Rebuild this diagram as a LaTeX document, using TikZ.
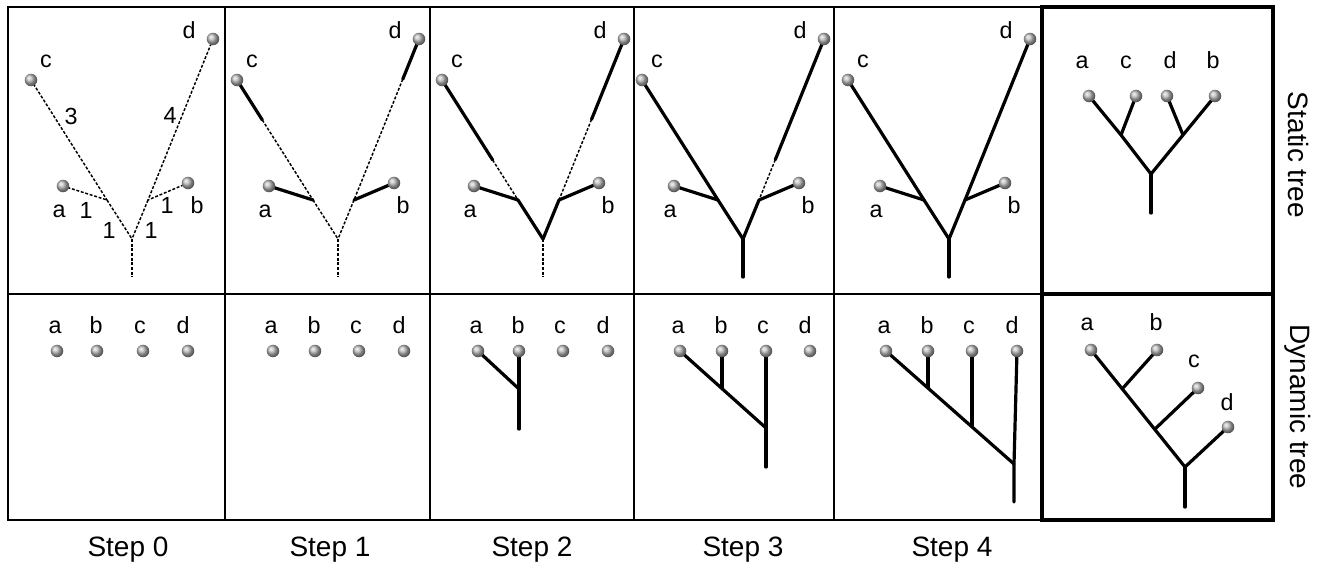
\documentclass[tikz,border=0pt]{standalone}
\usepackage{fontspec}
\setmainfont{Liberation Sans}
\usetikzlibrary{calc}
\pgfdeclarelayer{bg}
\pgfsetlayers{bg,main}
\tikzset{
  ball/.style={circle,inner sep=0pt,minimum size=9.4pt,shading=ball,ball color=gray!55},
  lbl/.style={font=\fontsize{17.5}{19}\selectfont,inner sep=0pt,anchor=base},
  steplbl/.style={font=\fontsize{21}{24}\selectfont,inner sep=0pt,anchor=base},
  sidelbl/.style={font=\fontsize{21}{24}\selectfont,inner sep=0pt,rotate=-90},
  branch/.style={line width=2.4pt,line cap=round,line join=round},
  dbranch/.style={line width=1.1pt,dash pattern=on 2.2pt off 1.3pt},
  thinframe/.style={line width=1.1pt},
  thickframe/.style={line width=2pt},
  boldframe/.style={line width=2.6pt},
}
% #1 x offset, #2 prefix, #3 solid fraction of c, #4 solid fraction of d,
% #5 style of a,b branches, #6 style of trunks, #7 style of stem
\newcommand\stree[7]{%
 \begin{scope}[shift={(#1,0)}]
  \node[ball] (#2a) at (63,186) {};
  \node[ball] (#2b) at (188,183) {};
  \node[ball] (#2c) at (31,80) {};
  \node[ball] (#2d) at (213,39) {};
  \coordinate (#2jl) at (107,200);
  \coordinate (#2jr) at (148,200);
  \coordinate (#2r) at (132,239);
  \coordinate (#2s) at (132,277);
  \coordinate (#2cm) at ($(#2c.center)!#3!(#2jl)$);
  \coordinate (#2dm) at ($(#2d.center)!#4!(#2jr)$);
  \node[lbl] (#2la) at (59,217) {a};
  \node[lbl] (#2lb) at (197,213) {b};
  \node[lbl] (#2lc) at (46,67) {c};
  \node[lbl] (#2ld) at (189,38) {d};
  \begin{pgfonlayer}{bg}
   \draw[dbranch] (#2cm) -- (#2jl);
   \draw[dbranch] (#2dm) -- (#2jr);
   \draw[#6] (#2jl) -- (#2r);
   \draw[#6] (#2jr) -- (#2r);
   \draw[#7] (#2r) -- (#2s);
   \draw[#5] (#2a.center) -- (#2jl);
   \draw[#5] (#2b.center) -- (#2jr);
   \draw[branch] (#2c.center) -- (#2cm);
   \draw[branch] (#2d.center) -- (#2dm);
  \end{pgfonlayer}
 \end{scope}}
% dynamic row: #1 prefix, #2..#5 ball x of a,b,c,d
\newcommand\drow[5]{%
  \node[ball] (#1a) at (#2,351) {};
  \node[ball] (#1b) at (#3,351) {};
  \node[ball] (#1c) at (#4,351) {};
  \node[ball] (#1d) at (#5,351) {};
  \node[lbl] (#1la) at (#2-2,333) {a};
  \node[lbl] (#1lb) at (#3-1,333) {b};
  \node[lbl] (#1lc) at (#4-3,333) {c};
  \node[lbl] (#1ld) at (#5-5,333) {d};}
\begin{document}
\begin{tikzpicture}[x=0.75pt,y=-0.75pt]
\useasboundingbox (0,0) rectangle (1331,565);
% frame
\draw[thickframe] (8,7) rectangle (1273,520);
\draw[thickframe] (8,294) -- (1042,294);
\foreach \xx in {225,430,634,834} \draw[thinframe] (\xx,7) -- (\xx,520);
\draw[boldframe] (1042,7) rectangle (1273,520);
\draw[boldframe] (1042,294) -- (1273,294);
% static trees
\stree{0}{sa}{0}{0}{dbranch}{dbranch}{dbranch}
\stree{206}{sb}{1/3}{1/4}{branch}{dbranch}{dbranch}
\stree{411}{sc}{2/3}{2/4}{branch}{branch}{dbranch}
\stree{611}{sd}{1}{3/4}{branch}{branch}{branch}
\stree{817}{se}{1}{1}{branch}{branch}{branch}
% branch lengths in step 0
\node[lbl] (n3) at (71,124) {3};
\node[lbl] (n4) at (170,123) {4};
\node[lbl] (n1a) at (86,218) {1};
\node[lbl] (n1b) at (167,213) {1};
\node[lbl] (n1c) at (109,238) {1};
\node[lbl] (n1d) at (151,238) {1};
% final static tree
\node[ball] (fa) at (1089,96) {};
\node[ball] (fc) at (1136,96) {};
\node[ball] (fd) at (1167,96) {};
\node[ball] (fb) at (1215,96) {};
\coordinate (fjl) at (1121,135);
\coordinate (fjr) at (1183,135);
\coordinate (fr) at (1151,174);
\coordinate (fs) at (1151,213);
\node[lbl] (fla) at (1082,68) {a};
\node[lbl] (flc) at (1126,68) {c};
\node[lbl] (fld) at (1170,68) {d};
\node[lbl] (flb) at (1213,68) {b};
\begin{pgfonlayer}{bg}
 \draw[branch] (fa.center) -- (fjl) -- (fr) -- (fjr) -- (fb.center);
 \draw[branch] (fc.center) -- (fjl);
 \draw[branch] (fd.center) -- (fjr);
 \draw[branch] (fr) -- (fs);
\end{pgfonlayer}
% dynamic trees
\drow{da}{57}{97}{143}{188}
\drow{db}{273}{315}{359}{404}
\drow{dc}{478}{519}{563}{608}
\drow{dd}{680}{722}{766}{810}
\drow{de}{886}{928}{972}{1017}
\coordinate (dcj) at (519,389);
\coordinate (dcs) at (519,429);
\coordinate (ddj1) at (722,388);
\coordinate (ddj2) at (766,428);
\coordinate (dds) at (766,467);
\coordinate (dej1) at (928,387);
\coordinate (dej2) at (972,426);
\coordinate (dej3) at (1014,464);
\coordinate (des) at (1014,502);
\begin{pgfonlayer}{bg}
 \draw[branch] (dca.center) -- (dcj);
 \draw[branch] (dcb.center) -- (dcs);
 \draw[branch] (dda.center) -- (ddj2);
 \draw[branch] (ddb.center) -- (ddj1);
 \draw[branch] (ddc.center) -- (dds);
 \draw[branch] (dea.center) -- (dej3);
 \draw[branch] (deb.center) -- (dej1);
 \draw[branch] (dec.center) -- (dej2);
 \draw[branch] (ded.center) -- (dej3) -- (des);
\end{pgfonlayer}
% final dynamic tree
\node[ball] (ga) at (1091,350) {};
\node[ball] (gb) at (1157,350) {};
\node[ball] (gc) at (1198,388) {};
\node[ball] (gd) at (1228,427) {};
\coordinate (gj1) at (1123,388);
\coordinate (gj2) at (1155,429);
\coordinate (gr) at (1185,467);
\coordinate (gs) at (1185,507);
\node[lbl] (gla) at (1087,330) {a};
\node[lbl] (glb) at (1156,330) {b};
\node[lbl] (glc) at (1194,367) {c};
\node[lbl] (gld) at (1227,410) {d};
\begin{pgfonlayer}{bg}
 \draw[branch] (ga.center) -- (gr) -- (gd.center);
 \draw[branch] (gb.center) -- (gj1);
 \draw[branch] (gc.center) -- (gj2);
 \draw[branch] (gr) -- (gs);
\end{pgfonlayer}
% step labels
\node[steplbl] (st0) at (128,556) {Step 0};
\node[steplbl] (st1) at (330,556) {Step 1};
\node[steplbl] (st2) at (532,556) {Step 2};
\node[steplbl] (st3) at (743,556) {Step 3};
\node[steplbl] (st4) at (952,556) {Step 4};
\node[sidelbl] (side1) at (1298,155) {Static tree};
\node[sidelbl] (side2) at (1298,407) {Dynamic tree};
\end{tikzpicture}
\end{document}
